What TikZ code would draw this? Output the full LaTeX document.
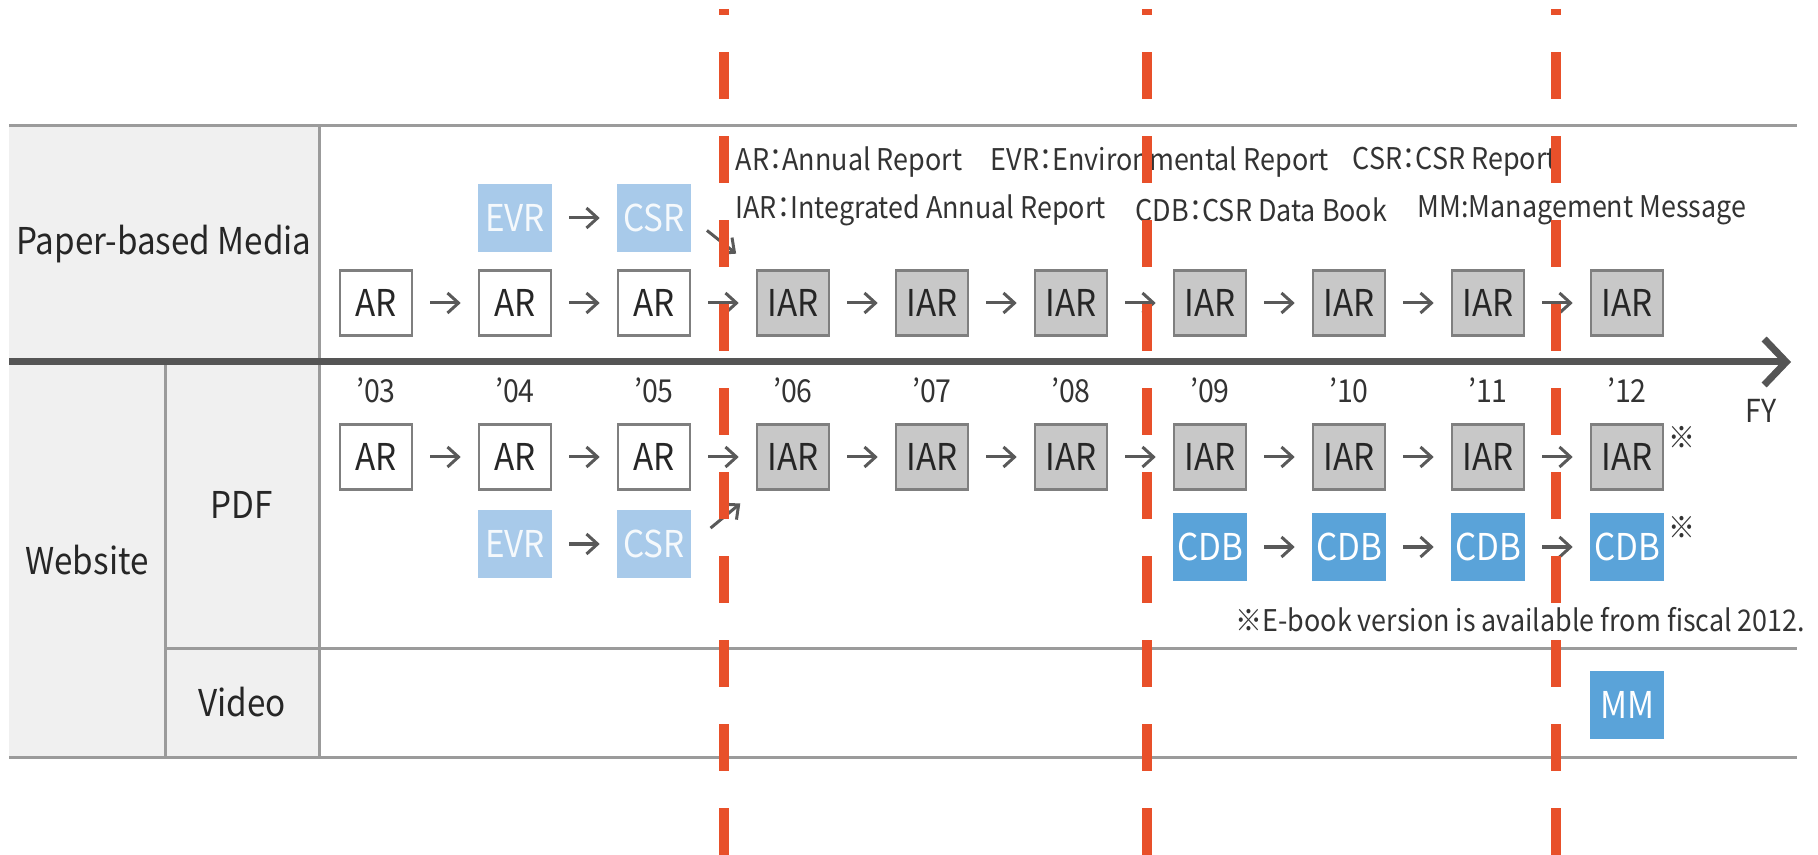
\documentclass[tikz,border=0pt]{standalone}
\usepackage{fontspec}
\setmainfont{Noto Sans CJK JP}[FakeStretch=0.9, RawFeature=+palt]
\usetikzlibrary{arrows.meta}

\definecolor{cellgray}{HTML}{F0F0F0}
\definecolor{rulegray}{HTML}{9B9B9B}
\definecolor{axisgray}{HTML}{555555}
\definecolor{iargray}{HTML}{C8C8C8}
\definecolor{boxedge}{HTML}{7F7F7F}
\definecolor{cdbblue}{HTML}{5AA3D9}
\definecolor{paleblue}{HTML}{A8CAEA}
\definecolor{redline}{HTML}{E8502A}

\tikzset{
  rule/.style={draw=rulegray, line width=0.3mm},
  head/.style={font=\fontsize{10.5}{12}\selectfont, text=black!85},
  yearlbl/.style={font=\fontsize{9}{11}\selectfont, text=black!80},
  note/.style={font=\fontsize{8.5}{10}\selectfont, text=black!80, inner sep=0pt},
  box/.style={draw=boxedge, line width=0.25mm, minimum width=7.2mm, minimum height=6.5mm,
    inner sep=0pt, font=\fontsize{10.5}{12}\selectfont, text=black!85},
  arbox/.style={box, fill=white},
  iarbox/.style={box, fill=iargray},
  bluebox/.style={box, draw=cdbblue, fill=cdbblue, text=white},
  palebox/.style={box, draw=paleblue, fill=paleblue, text=white!88!paleblue},
  conn/.style={draw=black!65, line width=0.3mm, -{Straight Barb[length=1.1mm,width=2mm]},
    shorten <=1.7mm, shorten >=1.7mm},
  axis/.style={draw=axisgray, line width=0.7mm, -{Straight Barb[length=2.2mm,width=4.6mm]}},
  cut/.style={draw=redline, line width=1mm, dash pattern=on 4.7mm off 3.7mm, dash phase=4.1mm}
}

\begin{document}
\begin{tikzpicture}[x=0.01cm, y=-0.01cm]
\useasboundingbox (0,0) rectangle (1818,855);
% label column
\fill[cellgray] (9,126) rectangle (319,757);
\draw[rule] (9,126) -- (1797,126);
\draw[rule] (165,648) -- (1797,648);
\draw[rule] (9,757) -- (1797,757);
\draw[rule] (165,362) -- (165,757);
\draw[rule] (319,126) -- (319,757);
\node[head] (paper) at (164,244) {Paper-based Media};
\node[head] (web) at (87,560) {Website};
\node[head] (pdf) at (242,505) {PDF};
\node[head] (video) at (242,702) {Video};

% time axis
\coordinate (axL) at (9,362);
\coordinate (axR) at (1791,362);
\draw[axis] (axL) -- (axR);
\node[yearlbl] (fy) at (1761,411) {FY};
\foreach \i/\yr in {0/03,1/04,2/05,3/06,4/07,5/08,6/09,7/10,8/11,9/12}{
  \node[yearlbl] (y\i) at (376+139*\i,390) {'\yr};
}

% paper-based media
\foreach \i in {0,1,2} \node[arbox] (p\i) at (376+139*\i,303) {AR};
\foreach \i in {3,...,9} \node[iarbox] (p\i) at (376+139*\i,303) {IAR};
\node[palebox] (evrP) at (515,218) {EVR};
\node[palebox] (csrP) at (654,218) {CSR};

% website: pdf
\foreach \i in {0,1,2} \node[arbox] (w\i) at (376+139*\i,457) {AR};
\foreach \i in {3,...,9} \node[iarbox] (w\i) at (376+139*\i,457) {IAR};
\node[palebox] (evrW) at (515,544) {EVR};
\node[palebox] (csrW) at (654,544) {CSR};
\foreach \i in {6,...,9} \node[bluebox] (c\i) at (376+139*\i,547) {CDB};

% website: video
\node[bluebox] (mm) at (1627,705) {MM};

% arrows
\foreach \i [remember=\i as \j (initially 0)] in {1,...,9}{
  \draw[conn] (p\j) -- (p\i);
  \draw[conn] (w\j) -- (w\i);
}
\foreach \i [remember=\i as \j (initially 6)] in {7,8,9} \draw[conn] (c\j) -- (c\i);
\draw[conn] (evrP) -- (csrP);
\draw[conn] (evrW) -- (csrW);
\draw[conn, shorten <=2mm, shorten >=2.5mm] (csrP.east) -- (p3.north west);
\draw[conn, shorten <=2.5mm, shorten >=2mm] (csrW.east) -- (w3.south west);

% notes
\node[note, anchor=north west] (m1) at ([shift={(4,2)}]w9.north east) {※};
\node[note, anchor=north west] (m2) at ([shift={(4,2)}]c9.north east) {※};
\node[note, anchor=west] (ebook) at (1235,620) {※E-book version is available from fiscal 2012.};
\node[note, anchor=west] (lgAR) at (735,162) {AR：Annual Report};
\node[note, anchor=west] (lgEVR) at (990,162) {EVR：Environmental Report};
\node[note, anchor=west] (lgCSR) at (1352,162) {CSR：CSR Report};
\node[note, anchor=west] (lgIAR) at (735,210) {IAR：Integrated Annual Report};
\node[note, anchor=west] (lgCDB) at (1135,210) {CDB：CSR Data Book};
\node[note, anchor=west] (lgMM) at (1417,210) {MM:Management Message};

% cut marks
\foreach \x in {724,1147,1556} \draw[cut] (\x,9) -- (\x,855);
\end{tikzpicture}
\end{document}
